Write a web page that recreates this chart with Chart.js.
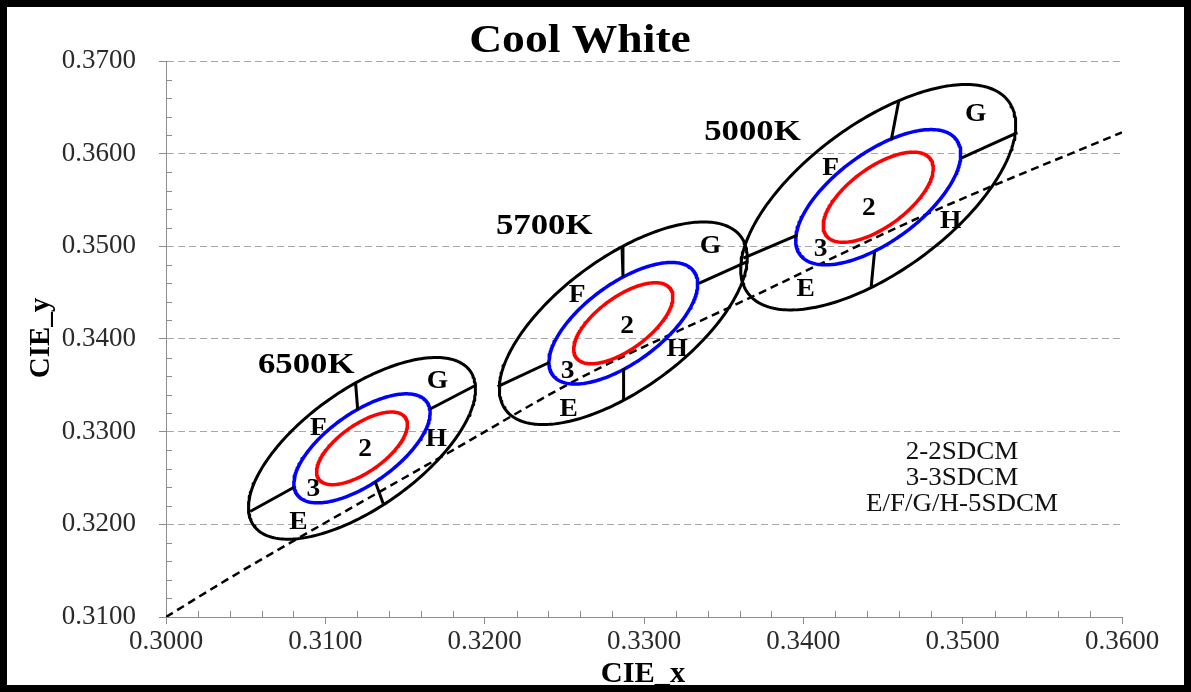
<!DOCTYPE html>
<html><head><meta charset="utf-8">
<script src="https://cdn.jsdelivr.net/npm/chart.js@4.4.1/dist/chart.umd.min.js"></script>
<style>html,body{margin:0;padding:0;background:#fff;}canvas{display:block;}</style>
</head><body>
<canvas id="c" width="1191" height="692"></canvas>
<script>
// ---------------- DATA ----------------
const xTickValues = [0.3000, 0.3100, 0.3200, 0.3300, 0.3400, 0.3500, 0.3600];
const yTickValues = [0.3100, 0.3200, 0.3300, 0.3400, 0.3500, 0.3600, 0.3700];

// MacAdam ellipse parameters (1-step), one entry per CCT
const cctNames   = ["6500K", "5700K", "5000K"];
const centerX    = [0.3123, 0.3287, 0.3447];
const centerY    = [0.3282, 0.3417, 0.3553];
const axisA      = [0.00223, 0.00247, 0.00274];
const axisB      = [0.00095, 0.00105, 0.00118];
const tiltDeg    = [58.23, 59.09, 59.37];
const stepSizes  = [5, 3, 2];

// Bin divider segments (E/F/G/H)
const dividerX1 = [0.30528, 0.31658, 0.31190, 0.31313,  0.32081, 0.33344, 0.32862, 0.32872,  0.33624, 0.34987, 0.34600, 0.34447];
const dividerY1 = [0.32139, 0.33245, 0.33525, 0.32462,  0.33485, 0.34601, 0.34996, 0.33684,  0.34874, 0.35950, 0.36579, 0.34942];
const dividerX2 = [0.30801, 0.31947, 0.31203, 0.31363,  0.32408, 0.33648, 0.32868, 0.32872,  0.33962, 0.35344, 0.34552, 0.34426];
const dividerY2 = [0.32398, 0.33504, 0.33239, 0.32225,  0.33749, 0.34834, 0.34672, 0.33342,  0.35122, 0.36226, 0.36148, 0.34565];

// Planckian locus (dashed)
const locusX = [0.3000, 0.3038, 0.3084, 0.3177, 0.3260, 0.3361, 0.3474, 0.3600];
const locusY = [0.3100, 0.3140, 0.3186, 0.3277, 0.3358, 0.3440, 0.3532, 0.3623];

// Text labels in data coordinates
const cctLabelX = [0.30880, 0.32374, 0.33681];
const cctLabelY = [0.33709, 0.35209, 0.36223];
const binLabels = ["E","F","G","H","2","3",  "E","F","G","H","2","3",  "E","F","G","H","2","3"];
const binLabelX = [0.30831,0.30957,0.31704,0.31696,0.31250,0.30925,  0.32527,0.32580,0.33417,0.33208,0.32894,0.32521,  0.34014,0.34171,0.35082,0.34925,0.34411,0.34108];
const binLabelY = [0.32018,0.33036,0.33539,0.32910,0.32802,0.32371,  0.33234,0.34464,0.34996,0.33881,0.34133,0.33647,  0.34529,0.35842,0.36417,0.35266,0.35410,0.34960];

const noteLines = ["2-2SDCM", "3-3SDCM", "E/F/G/H-5SDCM"];
const chartTitle = "Cool White";
const xTitle = "CIE_x";
const yTitle = "CIE_y";

// ---------------- BUILD ----------------
function ellipse(cx, cy, a, b, deg) {
  const t = deg * Math.PI / 180, pts = [];
  for (let i = 0; i <= 240; i++) {
    const p = 2 * Math.PI * i / 240;
    const u = a * Math.cos(p), v = b * Math.sin(p);
    pts.push({x: cx + u * Math.cos(t) - v * Math.sin(t), y: cy + u * Math.sin(t) + v * Math.cos(t)});
  }
  return pts;
}
const stepColor = {5: '#000000', 3: '#0000ff', 2: '#ff0000'};
const stepWidth = {5: 3, 3: 3.5, 2: 3.5};
const datasets = [];
stepSizes.forEach(s => {
  cctNames.forEach((n, i) => {
    datasets.push({data: ellipse(centerX[i], centerY[i], axisA[i]*s, axisB[i]*s, tiltDeg[i]),
      showLine: true, borderColor: stepColor[s], borderWidth: stepWidth[s], pointRadius: 0, fill: false, tension: 0,
      borderJoinStyle: 'round'});
  });
  if (s === 5) {
    dividerX1.forEach((x, k) => datasets.push({data: [{x: x, y: dividerY1[k]}, {x: dividerX2[k], y: dividerY2[k]}],
      showLine: true, borderColor: '#000', borderWidth: 3, pointRadius: 0, fill: false}));
  }
});
datasets.push({data: locusX.map((x, i) => ({x: x, y: locusY[i]})), showLine: true, borderColor: '#000',
  borderWidth: 2.5, borderDash: [8, 5], pointRadius: 0, fill: false, cubicInterpolationMode: 'monotone'});

const serif = '"Liberation Serif", "Times New Roman", serif';
const GRAY = '#8c8c8c';

function stretchText(ctx, t, x, y, sx) {
  ctx.save(); ctx.translate(x, y); ctx.scale(sx, 1); ctx.fillText(t, 0, 0); ctx.restore();
}

const decor = {
  id: 'decor',
  afterDraw(chart) {
    const ctx = chart.ctx, xs = chart.scales.x, ys = chart.scales.y, ca = chart.chartArea;
    ctx.save();
    // minor ticks (inside)
    ctx.strokeStyle = GRAY; ctx.lineWidth = 1;
    for (let k = 1; k < 30; k++) {
      if (k % 5 === 0) continue;
      const px = Math.round(xs.getPixelForValue(0.30 + k * 0.002)) + 0.5;
      ctx.beginPath(); ctx.moveTo(px, ca.bottom); ctx.lineTo(px, ca.bottom - 6); ctx.stroke();
      const py = Math.round(ys.getPixelForValue(0.31 + k * 0.002)) + 0.5;
      ctx.beginPath(); ctx.moveTo(ca.left, py); ctx.lineTo(ca.left + 6, py); ctx.stroke();
    }
    // labels
    ctx.fillStyle = '#000'; ctx.textAlign = 'center'; ctx.textBaseline = 'middle';
    ctx.font = 'bold 29px ' + serif;
    cctNames.forEach((n, i) => stretchText(ctx, n, xs.getPixelForValue(cctLabelX[i]), ys.getPixelForValue(cctLabelY[i]), 1.2));
    ctx.font = 'bold 25px ' + serif;
    binLabels.forEach((t, i) => stretchText(ctx, t, xs.getPixelForValue(binLabelX[i]), ys.getPixelForValue(binLabelY[i]), 1.1));
    // note
    ctx.font = '25px ' + serif; ctx.fillStyle = '#111';
    noteLines.forEach((t, i) => stretchText(ctx, t, 962, 452 + i * 26, 1.08));
    // title
    ctx.fillStyle = '#000'; ctx.font = 'bold 40px ' + serif;
    stretchText(ctx, chartTitle, 580, 42, 1.14);
    // axis titles
    ctx.font = 'bold 29px ' + serif;
    stretchText(ctx, xTitle, 643, 675, 1.05);
    ctx.save(); ctx.translate(42, 338); ctx.rotate(-Math.PI / 2); ctx.fillText(yTitle, 0, 0); ctx.restore();
    // frame
    ctx.strokeStyle = '#000'; ctx.lineWidth = 7;
    ctx.strokeRect(3.5, 3.5, 1191 - 7, 692 - 7);
    ctx.restore();
  }
};

new Chart(document.getElementById('c'), {
  type: 'scatter',
  data: {datasets: datasets},
  options: {
    responsive: false, animation: false,
    layout: {padding: {top: 61, right: 69, left: 0, bottom: 0}},
    plugins: {legend: {display: false}, tooltip: {enabled: false}, title: {display: false}},
    scales: {
      x: {
        type: 'linear', min: 0.30, max: 0.36,
        afterFit: s => { s.height = 75; },
        afterBuildTicks: s => { s.ticks = xTickValues.map(v => ({value: v})); },
        ticks: {callback: v => v.toFixed(4), color: '#2a2a2a', padding: 2, maxRotation: 0, autoSkip: false,
          font: {family: serif, size: 27}},
        grid: {drawOnChartArea: false, drawTicks: true, tickLength: 7, tickColor: GRAY, tickWidth: 1},
        border: {color: GRAY, width: 1}
      },
      y: {
        type: 'linear', min: 0.31, max: 0.37,
        afterFit: s => { s.width = 166; },
        afterBuildTicks: s => { s.ticks = yTickValues.map(v => ({value: v})); },
        ticks: {callback: v => v.toFixed(4), color: '#2a2a2a', padding: 23, autoSkip: false,
          font: {family: serif, size: 27}},
        grid: {drawOnChartArea: true, color: '#a8a8a8', lineWidth: 1, drawTicks: true, tickLength: 7,
          tickColor: GRAY, tickWidth: 1},
        border: {color: GRAY, width: 1, dash: [7, 4]}
      }
    }
  },
  plugins: [decor]
});
</script>
</body></html>
